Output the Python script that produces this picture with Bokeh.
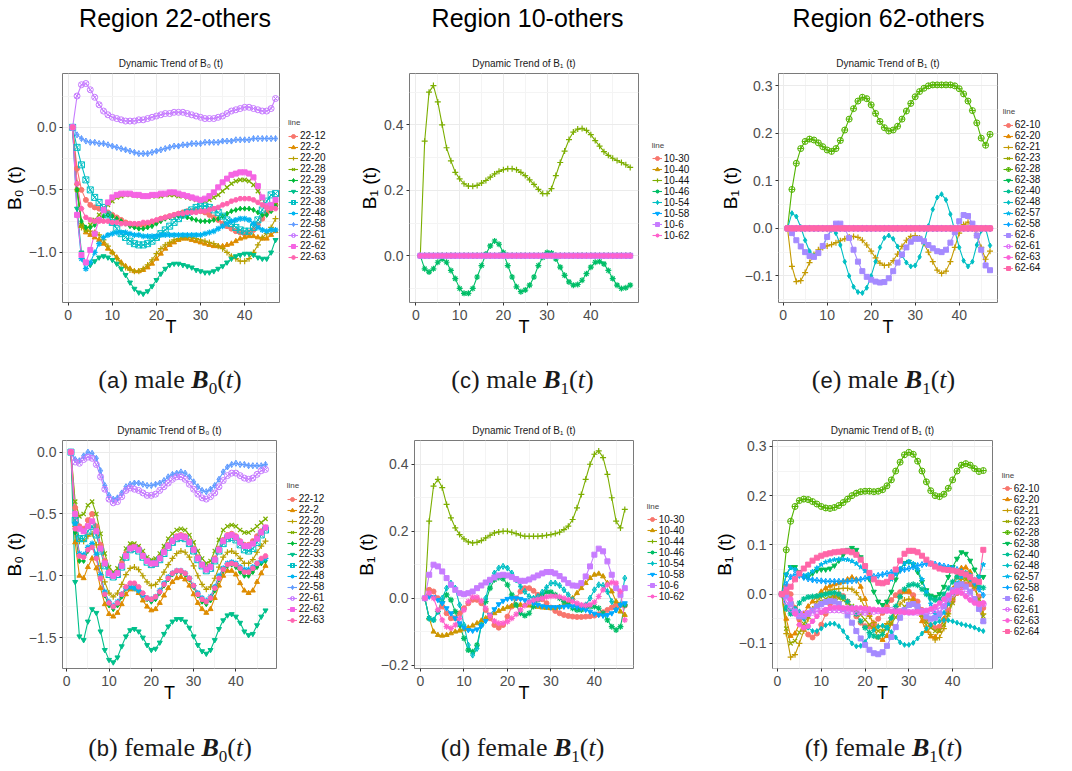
from bokeh.plotting import figure
from bokeh.models import FixedTicker, CustomJSTickFormatter, Legend, LegendItem, Div, Range1d
from bokeh.layouts import column, row
from bokeh.embed import file_html
from bokeh.resources import INLINE

# ---------------- x values ----------------
T47 = [1, 2, 3, 4, 5, 6, 7, 8, 9, 10, 11, 12, 13, 14, 15, 16, 17, 18, 19, 20,
       21, 22, 23, 24, 25, 26, 27, 28, 29, 30, 31, 32, 33, 34, 35, 36, 37, 38, 39, 40,
       41, 42, 43, 44, 45, 46, 47]
T49 = T47 + [48, 49]

# ---------------- legend names ----------------
names_22 = ["22-12", "22-2", "22-20", "22-28", "22-29", "22-33", "22-38", "22-48",
            "22-58", "22-61", "22-62", "22-63"]
names_10 = ["10-30", "10-40", "10-44", "10-46", "10-54", "10-58", "10-6", "10-62"]
names_62 = ["62-10", "62-20", "62-21", "62-23", "62-28", "62-38", "62-40", "62-48",
            "62-57", "62-58", "62-6", "62-61", "62-63", "62-64"]

# ---------------- (a) male B0, region 22 ----------------
a_22_12 = [0, -0.33, -0.5, -0.58, -0.62, -0.64, -0.65, -0.66, -0.68, -0.7,
           -0.72, -0.74, -0.76, -0.77, -0.78, -0.78, -0.78, -0.77, -0.76, -0.75,
           -0.73, -0.72, -0.71, -0.7, -0.69, -0.68, -0.67, -0.67, -0.67, -0.67,
           -0.68, -0.7, -0.72, -0.74, -0.77, -0.79, -0.81, -0.83, -0.84, -0.85,
           -0.84, -0.82, -0.78, -0.73, -0.68, -0.64, -0.62]
a_22_2 = [0, -0.45, -0.78, -0.84, -0.86, -0.88, -0.9, -0.93, -0.97, -1.0,
          -1.04, -1.08, -1.11, -1.13, -1.15, -1.15, -1.14, -1.12, -1.09, -1.05,
          -1.01, -0.97, -0.94, -0.92, -0.9, -0.89, -0.89, -0.9, -0.91, -0.92,
          -0.93, -0.94, -0.95, -0.95, -0.95, -0.94, -0.93, -0.91, -0.89, -0.88,
          -0.87, -0.87, -0.88, -0.89, -0.89, -0.86, -0.83]
a_22_20 = [0, -0.5, -0.8, -0.82, -0.83, -0.84, -0.86, -0.9, -0.95, -1.0,
           -1.05, -1.09, -1.12, -1.14, -1.15, -1.15, -1.13, -1.1, -1.06, -1.01,
           -0.97, -0.94, -0.92, -0.9, -0.89, -0.88, -0.88, -0.88, -0.89, -0.9,
           -0.91, -0.92, -0.93, -0.95, -0.97, -1.0, -1.03, -1.05, -1.07, -1.07,
           -1.05, -1.0, -0.94, -0.88, -0.85, -0.8, -0.73]
a_22_28 = [0, -0.5, -0.78, -0.82, -0.78, -0.74, -0.7, -0.66, -0.62, -0.59,
           -0.56, -0.55, -0.54, -0.54, -0.54, -0.55, -0.55, -0.55, -0.55, -0.55,
           -0.55, -0.54, -0.54, -0.54, -0.55, -0.55, -0.56, -0.57, -0.58, -0.59,
           -0.59, -0.58, -0.56, -0.54, -0.51, -0.48, -0.45, -0.43, -0.42, -0.42,
           -0.43, -0.46, -0.51, -0.57, -0.63, -0.66, -0.62]
a_22_29 = [0, -0.5, -0.75, -0.8, -0.8, -0.78, -0.74, -0.71, -0.7, -0.71,
           -0.73, -0.75, -0.77, -0.79, -0.8, -0.81, -0.81, -0.8, -0.79, -0.77,
           -0.75, -0.73, -0.72, -0.71, -0.71, -0.71, -0.72, -0.73, -0.74, -0.75,
           -0.75, -0.75, -0.74, -0.73, -0.71, -0.69, -0.67, -0.66, -0.65, -0.65,
           -0.65, -0.66, -0.68, -0.7, -0.7, -0.67, -0.63]
a_22_33 = [0, -0.65, -1.0, -1.08, -1.1, -1.07, -1.04, -1.03, -1.04, -1.06,
           -1.09, -1.13, -1.18, -1.24, -1.29, -1.32, -1.33, -1.31, -1.27, -1.22,
           -1.17, -1.13, -1.1, -1.09, -1.09, -1.1, -1.11, -1.12, -1.14, -1.15,
           -1.16, -1.16, -1.15, -1.13, -1.11, -1.08, -1.05, -1.03, -1.02, -1.01,
           -1.01, -1.02, -1.04, -1.05, -1.05, -1.0, -0.9]
a_22_38 = [0, -0.16, -0.3, -0.42, -0.5, -0.56, -0.6, -0.64, -0.7, -0.76,
           -0.81, -0.85, -0.88, -0.91, -0.93, -0.94, -0.94, -0.93, -0.91, -0.88,
           -0.85, -0.82, -0.79, -0.76, -0.73, -0.7, -0.68, -0.66, -0.64, -0.63,
           -0.63, -0.64, -0.66, -0.68, -0.71, -0.74, -0.77, -0.8, -0.82, -0.83,
           -0.83, -0.8, -0.74, -0.66, -0.59, -0.54, -0.53]
a_22_48 = [0, -0.7, -1.05, -1.13, -1.08, -1.0, -0.93, -0.88, -0.86, -0.85,
           -0.84, -0.84, -0.84, -0.85, -0.86, -0.86, -0.87, -0.87, -0.87, -0.87,
           -0.86, -0.86, -0.86, -0.86, -0.86, -0.86, -0.86, -0.86, -0.86, -0.86,
           -0.85, -0.84, -0.83, -0.81, -0.79, -0.77, -0.75, -0.74, -0.73, -0.73,
           -0.74, -0.77, -0.8, -0.82, -0.83, -0.82, -0.82]
a_22_58 = [0, -0.06, -0.09, -0.11, -0.12, -0.12, -0.13, -0.13, -0.14, -0.15,
           -0.16, -0.17, -0.18, -0.19, -0.2, -0.21, -0.21, -0.21, -0.2, -0.19,
           -0.18, -0.17, -0.16, -0.15, -0.15, -0.14, -0.14, -0.13, -0.13, -0.13,
           -0.12, -0.12, -0.12, -0.12, -0.11, -0.11, -0.11, -0.1, -0.1, -0.1,
           -0.1, -0.09, -0.09, -0.09, -0.09, -0.09, -0.09]
a_22_61 = [0, 0.25, 0.34, 0.35, 0.3, 0.24, 0.18, 0.13, 0.1, 0.08,
           0.07, 0.06, 0.05, 0.05, 0.05, 0.06, 0.06, 0.07, 0.08, 0.09,
           0.1, 0.11, 0.11, 0.12, 0.12, 0.12, 0.11, 0.1, 0.09, 0.08,
           0.07, 0.07, 0.07, 0.08, 0.09, 0.11, 0.13, 0.14, 0.15, 0.16,
           0.16, 0.15, 0.14, 0.13, 0.13, 0.15, 0.23]
a_22_62 = [0, -0.7, -1.02, -1.08, -0.98, -0.85, -0.74, -0.66, -0.6, -0.56,
           -0.54, -0.53, -0.53, -0.53, -0.54, -0.54, -0.55, -0.55, -0.54, -0.54,
           -0.53, -0.53, -0.52, -0.52, -0.53, -0.54, -0.55, -0.56, -0.57, -0.58,
           -0.57, -0.55, -0.52, -0.48, -0.44, -0.41, -0.38, -0.37, -0.36, -0.36,
           -0.37, -0.4, -0.47, -0.56, -0.63, -0.62, -0.58]
a_22_63 = [0, -0.45, -0.65, -0.72, -0.74, -0.75, -0.75, -0.75, -0.75, -0.76,
           -0.76, -0.77, -0.77, -0.77, -0.77, -0.77, -0.76, -0.76, -0.75, -0.74,
           -0.73, -0.72, -0.71, -0.7, -0.69, -0.69, -0.68, -0.68, -0.68, -0.67,
           -0.67, -0.66, -0.65, -0.64, -0.62, -0.61, -0.59, -0.58, -0.57, -0.57,
           -0.57, -0.58, -0.6, -0.62, -0.64, -0.65, -0.65]

# ---------------- (b) female B0, region 22 ----------------
b_22_12 = [0, -0.45, -0.6, -0.62, -0.55, -0.5, -0.6, -0.75, -0.88, -0.97,
           -1.0, -0.97, -0.9, -0.82, -0.77, -0.76, -0.78, -0.83, -0.88, -0.9,
           -0.89, -0.85, -0.8, -0.75, -0.71, -0.68, -0.67, -0.68, -0.72, -0.78,
           -0.85, -0.91, -0.94, -0.92, -0.86, -0.78, -0.71, -0.67, -0.66, -0.68,
           -0.72, -0.75, -0.75, -0.72, -0.68, -0.64, -0.61]
b_22_2 = [0, -0.73, -1.0, -1.02, -0.93, -0.86, -0.94, -1.1, -1.23, -1.31,
          -1.33, -1.3, -1.23, -1.15, -1.11, -1.11, -1.14, -1.2, -1.25, -1.28,
          -1.27, -1.22, -1.16, -1.1, -1.05, -1.02, -1.01, -1.03, -1.08, -1.15,
          -1.22, -1.27, -1.3, -1.27, -1.18, -1.08, -1.0, -0.96, -0.96, -0.99,
          -1.06, -1.12, -1.14, -1.12, -1.05, -0.98, -0.92]
b_22_20 = [0, -0.6, -0.72, -0.72, -0.68, -0.66, -0.75, -0.92, -1.05, -1.14,
           -1.17, -1.14, -1.07, -0.99, -0.94, -0.93, -0.95, -1.0, -1.05, -1.08,
           -1.07, -1.03, -0.97, -0.91, -0.86, -0.82, -0.8, -0.81, -0.85, -0.92,
           -1.0, -1.07, -1.11, -1.09, -1.02, -0.93, -0.85, -0.81, -0.8, -0.82,
           -0.86, -0.9, -0.9, -0.87, -0.81, -0.76, -0.72]
b_22_28 = [0, -0.4, -0.52, -0.5, -0.43, -0.4, -0.5, -0.66, -0.82, -0.93,
           -0.97, -0.94, -0.86, -0.78, -0.74, -0.74, -0.76, -0.8, -0.85, -0.87,
           -0.86, -0.82, -0.76, -0.7, -0.66, -0.63, -0.62, -0.63, -0.67, -0.73,
           -0.8, -0.86, -0.9, -0.88, -0.8, -0.71, -0.63, -0.6, -0.59, -0.6,
           -0.63, -0.65, -0.65, -0.63, -0.6, -0.57, -0.54]
b_22_29 = [0, -0.65, -0.88, -0.88, -0.8, -0.76, -0.85, -1.02, -1.16, -1.24,
           -1.27, -1.24, -1.17, -1.1, -1.07, -1.07, -1.1, -1.15, -1.19, -1.21,
           -1.19, -1.14, -1.08, -1.03, -0.99, -0.97, -0.97, -0.99, -1.03, -1.09,
           -1.16, -1.21, -1.23, -1.2, -1.12, -1.03, -0.96, -0.92, -0.91, -0.93,
           -0.97, -1.0, -1.0, -0.97, -0.93, -0.9, -0.88]
b_22_33 = [0, -1.05, -1.49, -1.52, -1.37, -1.27, -1.3, -1.45, -1.6, -1.68,
           -1.7, -1.66, -1.57, -1.49, -1.44, -1.43, -1.45, -1.5, -1.56, -1.6,
           -1.59, -1.54, -1.47, -1.41, -1.37, -1.35, -1.35, -1.37, -1.42, -1.49,
           -1.56, -1.61, -1.63, -1.6, -1.52, -1.43, -1.36, -1.32, -1.31, -1.33,
           -1.38, -1.45, -1.48, -1.47, -1.4, -1.33, -1.28]
b_22_38 = [0, -0.55, -0.7, -0.7, -0.64, -0.6, -0.67, -0.8, -0.92, -0.99,
           -1.01, -0.99, -0.93, -0.85, -0.79, -0.78, -0.8, -0.85, -0.89, -0.91,
           -0.9, -0.87, -0.82, -0.77, -0.73, -0.7, -0.69, -0.7, -0.74, -0.8,
           -0.87, -0.92, -0.96, -0.94, -0.88, -0.8, -0.74, -0.7, -0.69, -0.71,
           -0.75, -0.79, -0.8, -0.78, -0.73, -0.67, -0.63]
b_22_48 = [0, -0.58, -0.82, -0.83, -0.77, -0.74, -0.83, -0.99, -1.13, -1.21,
           -1.24, -1.21, -1.15, -1.1, -1.09, -1.1, -1.12, -1.16, -1.18, -1.19,
           -1.17, -1.12, -1.06, -1.01, -0.98, -0.96, -0.96, -0.98, -1.02, -1.08,
           -1.14, -1.18, -1.2, -1.17, -1.09, -1.0, -0.94, -0.9, -0.89, -0.9,
           -0.93, -0.95, -0.95, -0.93, -0.9, -0.88, -0.86]
b_22_58 = [0, -0.06, -0.07, -0.03, 0.0, -0.01, -0.05, -0.15, -0.27, -0.35,
           -0.38, -0.37, -0.33, -0.28, -0.26, -0.25, -0.25, -0.26, -0.27, -0.27,
           -0.26, -0.25, -0.23, -0.2, -0.18, -0.17, -0.16, -0.17, -0.2, -0.24,
           -0.28, -0.31, -0.32, -0.3, -0.27, -0.22, -0.16, -0.12, -0.1, -0.09,
           -0.1, -0.1, -0.11, -0.11, -0.11, -0.11, -0.1]
b_22_61 = [0, -0.08, -0.09, -0.06, -0.04, -0.05, -0.1, -0.2, -0.3, -0.38,
           -0.41, -0.4, -0.36, -0.31, -0.29, -0.3, -0.31, -0.33, -0.35, -0.35,
           -0.34, -0.31, -0.28, -0.25, -0.22, -0.2, -0.2, -0.22, -0.26, -0.3,
           -0.34, -0.37, -0.38, -0.36, -0.33, -0.28, -0.23, -0.19, -0.17, -0.17,
           -0.19, -0.21, -0.22, -0.21, -0.18, -0.15, -0.14]
b_22_62 = [0, -0.5, -0.62, -0.64, -0.6, -0.56, -0.64, -0.78, -0.9, -0.98,
           -1.0, -0.98, -0.92, -0.84, -0.78, -0.77, -0.79, -0.84, -0.88, -0.9,
           -0.9, -0.86, -0.81, -0.76, -0.72, -0.69, -0.68, -0.69, -0.73, -0.79,
           -0.86, -0.91, -0.95, -0.93, -0.87, -0.79, -0.72, -0.68, -0.67, -0.69,
           -0.73, -0.76, -0.76, -0.74, -0.7, -0.65, -0.61]
b_22_63 = [0, -0.62, -0.84, -0.85, -0.79, -0.77, -0.86, -1.02, -1.15, -1.22,
           -1.25, -1.22, -1.15, -1.09, -1.06, -1.06, -1.09, -1.14, -1.18, -1.19,
           -1.17, -1.13, -1.07, -1.02, -0.98, -0.96, -0.96, -0.98, -1.02, -1.08,
           -1.15, -1.19, -1.21, -1.18, -1.1, -1.02, -0.95, -0.91, -0.9, -0.91,
           -0.94, -0.97, -0.97, -0.94, -0.9, -0.86, -0.84]

# ---------------- (c) male B1, region 10 (49 time points) ----------------
c_zero = [0, 0, 0, 0, 0, 0, 0, 0, 0, 0, 0, 0, 0, 0, 0, 0, 0, 0, 0, 0,
          0, 0, 0, 0, 0, 0, 0, 0, 0, 0, 0, 0, 0, 0, 0, 0, 0, 0, 0, 0,
          0, 0, 0, 0, 0, 0, 0, 0, 0]
c_10_44 = [0, 0.35, 0.5, 0.52, 0.47, 0.4, 0.33, 0.29, 0.255, 0.235,
           0.22, 0.213, 0.212, 0.215, 0.222, 0.23, 0.24, 0.25, 0.258, 0.263,
           0.266, 0.266, 0.263, 0.255, 0.245, 0.232, 0.218, 0.203, 0.19, 0.19,
           0.205, 0.245, 0.285, 0.32, 0.355, 0.378, 0.387, 0.389, 0.383, 0.37,
           0.352, 0.335, 0.318, 0.307, 0.298, 0.291, 0.285, 0.278, 0.27]
c_10_46 = [0, -0.04, -0.05, -0.04, -0.02, -0.01, -0.02, -0.045, -0.07, -0.1,
           -0.115, -0.115, -0.1, -0.065, -0.03, 0.005, 0.03, 0.045, 0.035, 0.01,
           -0.03, -0.065, -0.095, -0.11, -0.105, -0.09, -0.065, -0.03, -0.005, 0.01,
           0.008, -0.01, -0.035, -0.06, -0.08, -0.09, -0.088, -0.075, -0.055, -0.035,
           -0.02, -0.018, -0.025, -0.045, -0.07, -0.09, -0.1, -0.098, -0.09]

# ---------------- (d) female B1, region 10 ----------------
d_10_30 = [0, 0.025, 0.02, 0.0, -0.025, -0.045, -0.06, -0.06, -0.045, -0.03,
           -0.015, -0.005, -0.005, -0.015, -0.035, -0.06, -0.08, -0.088, -0.08, -0.055,
           -0.025, 0.0, 0.02, 0.03, 0.03, 0.022, 0.01, -0.003, -0.015, -0.028,
           -0.038, -0.045, -0.05, -0.053, -0.055, -0.056, -0.056, -0.055, -0.054, -0.052,
           -0.048, -0.042, -0.035, -0.028, -0.022, -0.02, -0.022]
d_10_40 = [0, -0.06, -0.1, -0.11, -0.112, -0.11, -0.105, -0.1, -0.097, -0.093,
           -0.088, -0.082, -0.075, -0.067, -0.06, -0.052, -0.045, -0.038, -0.032, -0.027,
           -0.023, -0.021, -0.02, -0.021, -0.022, -0.024, -0.026, -0.028, -0.029, -0.03,
           -0.029, -0.026, -0.02, -0.012, 0.0, 0.015, 0.03, 0.045, 0.06, 0.07,
           0.073, 0.065, 0.045, 0.02, -0.01, -0.04, -0.05]
d_10_44 = [0, 0.23, 0.335, 0.355, 0.33, 0.28, 0.24, 0.21, 0.19, 0.177,
           0.168, 0.165, 0.167, 0.172, 0.18, 0.188, 0.195, 0.198, 0.2, 0.2,
           0.197, 0.193, 0.188, 0.185, 0.185, 0.185, 0.185, 0.186, 0.188, 0.19,
           0.193, 0.197, 0.205, 0.215, 0.235, 0.27, 0.31, 0.355, 0.4, 0.43,
           0.44, 0.42, 0.37, 0.3, 0.23, 0.21, 0.265]
d_10_46 = [0, -0.06, -0.065, -0.04, -0.01, 0.01, -0.005, -0.04, -0.08, -0.12,
           -0.155, -0.16, -0.14, -0.08, -0.01, 0.03, 0.055, 0.062, 0.058, 0.04,
           0.01, -0.02, -0.045, -0.052, -0.045, -0.025, -0.005, 0.01, 0.018, 0.018,
           0.01, 0.0, -0.01, -0.02, -0.03, -0.035, -0.035, -0.03, -0.025, -0.025,
           -0.03, -0.045, -0.065, -0.085, -0.095, -0.085, -0.02]
d_10_54 = [0, -0.06, -0.065, -0.04, 0.0, 0.03, 0.045, 0.03, -0.02, -0.08,
           -0.14, -0.17, -0.15, -0.08, 0.0, 0.05, 0.075, 0.09, 0.095, 0.09,
           0.075, 0.055, 0.035, 0.02, 0.005, 0.0, 0.005, 0.018, 0.032, 0.045,
           0.045, 0.038, 0.025, 0.01, -0.005, -0.02, -0.025, -0.02, 0.0, 0.025,
           0.04, 0.038, 0.02, -0.01, -0.035, -0.02, 0.06]
d_10_58 = [0, 0.005, 0.003, -0.005, -0.015, -0.03, -0.045, -0.06, -0.075, -0.088,
           -0.095, -0.097, -0.093, -0.083, -0.068, -0.05, -0.033, -0.018, -0.008, -0.002,
           0.0, 0.0, -0.002, -0.006, -0.01, -0.015, -0.02, -0.024, -0.026, -0.027,
           -0.027, -0.026, -0.025, -0.024, -0.024, -0.026, -0.03, -0.035, -0.04, -0.046,
           -0.05, -0.052, -0.05, -0.045, -0.035, -0.02, -0.015]
d_10_6 = [0, 0.07, 0.1, 0.095, 0.08, 0.06, 0.04, 0.025, 0.015, 0.012,
          0.015, 0.02, 0.03, 0.038, 0.047, 0.055, 0.062, 0.068, 0.07, 0.068,
          0.063, 0.057, 0.052, 0.052, 0.056, 0.062, 0.068, 0.074, 0.078, 0.078,
          0.074, 0.066, 0.056, 0.045, 0.038, 0.037, 0.045, 0.065, 0.095, 0.13,
          0.148, 0.14, 0.11, 0.07, 0.03, 0.01, 0.03]
d_10_62 = [0, 0.015, 0.0, -0.035, -0.065, -0.085, -0.09, -0.08, -0.06, -0.035,
           -0.01, 0.003, 0.003, -0.008, -0.03, -0.052, -0.068, -0.075, -0.075, -0.07,
           -0.06, -0.048, -0.035, -0.022, -0.012, -0.006, -0.003, 0.0, 0.004, 0.006,
           0.006, 0.004, 0.0, -0.005, -0.01, -0.015, -0.02, -0.022, -0.02, -0.012,
           0.005, 0.025, 0.04, 0.047, 0.045, 0.02, -0.065]

# ---------------- (e) male B1, region 62 ----------------
e_zero = [0, 0, 0, 0, 0, 0, 0, 0, 0, 0, 0, 0, 0, 0, 0, 0, 0, 0, 0, 0,
          0, 0, 0, 0, 0, 0, 0, 0, 0, 0, 0, 0, 0, 0, 0, 0, 0, 0, 0, 0,
          0, 0, 0, 0, 0, 0, 0]
e_62_21 = [0, -0.08, -0.112, -0.11, -0.093, -0.072, -0.055, -0.045, -0.04, -0.037,
           -0.034, -0.03, -0.026, -0.022, -0.018, -0.017, -0.019, -0.025, -0.035, -0.048,
           -0.062, -0.073, -0.078, -0.077, -0.068, -0.054, -0.038, -0.025, -0.017, -0.015,
           -0.02, -0.032, -0.05, -0.07, -0.088, -0.095, -0.09, -0.07, -0.04, -0.01,
           0.008, 0.013, 0.005, -0.015, -0.04, -0.065, -0.048]
e_62_28 = [0, 0.082, 0.137, 0.168, 0.183, 0.188, 0.186, 0.18, 0.172, 0.165,
           0.162, 0.168, 0.185, 0.207, 0.23, 0.252, 0.268, 0.276, 0.273, 0.26,
           0.242, 0.225, 0.212, 0.205, 0.207, 0.215, 0.23, 0.247, 0.263, 0.277,
           0.288, 0.295, 0.3, 0.302, 0.302, 0.302, 0.302, 0.302, 0.3, 0.294,
           0.283, 0.268, 0.248, 0.222, 0.19, 0.175, 0.198]
e_62_48 = [0, 0.032, 0.025, 0.003, -0.025, -0.048, -0.058, -0.052, -0.038, -0.018,
           -0.003, -0.01, -0.035, -0.07, -0.1, -0.123, -0.134, -0.136, -0.125, -0.1,
           -0.07, -0.04, -0.02, -0.015, -0.022, -0.038, -0.057, -0.072, -0.08, -0.078,
           -0.06, -0.03, 0.005, 0.04, 0.065, 0.072, 0.06, 0.03, -0.005, -0.04,
           -0.068, -0.08, -0.07, -0.035, -0.005, 0.0, -0.036]
e_62_6 = [0, -0.01, -0.025, -0.038, -0.05, -0.058, -0.06, -0.052, -0.037, -0.018,
          0.0, 0.01, 0.01, 0.0, -0.02, -0.045, -0.07, -0.09, -0.102, -0.108,
          -0.112, -0.114, -0.113, -0.105, -0.09, -0.072, -0.055, -0.04, -0.028, -0.022,
          -0.022, -0.027, -0.035, -0.042, -0.048, -0.05, -0.045, -0.03, -0.008, 0.015,
          0.028, 0.026, 0.01, -0.015, -0.045, -0.078, -0.088]

# ---------------- (f) female B1, region 62 ----------------
f_62_10 = [0, 0.015, 0.0, -0.028, -0.052, -0.07, -0.082, -0.088, -0.08, -0.062,
           -0.04, -0.02, -0.006, 0.0, -0.004, -0.015, -0.03, -0.045, -0.058, -0.065,
           -0.066, -0.06, -0.05, -0.038, -0.025, -0.012, -0.002, 0.004, 0.006, 0.005,
           -0.002, -0.015, -0.032, -0.05, -0.063, -0.069, -0.066, -0.052, -0.033, -0.014,
           0.002, 0.014, 0.02, 0.02, 0.012, -0.005, -0.028]
f_62_20 = [0, -0.05, -0.085, -0.08, -0.06, -0.04, -0.025, -0.015, -0.005, 0.005,
           0.012, 0.017, 0.02, 0.022, 0.025, 0.03, 0.034, 0.03, 0.015, -0.01,
           -0.04, -0.068, -0.088, -0.093, -0.085, -0.06, -0.03, -0.005, 0.005, 0.005,
           -0.01, -0.03, -0.055, -0.075, -0.086, -0.087, -0.075, -0.05, -0.02, 0.01,
           0.035, 0.053, 0.054, 0.045, 0.02, -0.02, -0.055]
f_62_21 = [0, -0.08, -0.128, -0.123, -0.1, -0.075, -0.05, -0.03, -0.015, -0.005,
           0.003, 0.008, 0.01, 0.011, 0.012, 0.012, 0.01, 0.003, -0.01, -0.028,
           -0.045, -0.058, -0.065, -0.066, -0.06, -0.048, -0.033, -0.02, -0.012, -0.01,
           -0.015, -0.028, -0.045, -0.065, -0.082, -0.093, -0.088, -0.07, -0.04, -0.01,
           0.015, 0.03, 0.035, 0.03, 0.015, -0.015, -0.04]
f_62_23 = [0, -0.07, -0.1, -0.095, -0.078, -0.06, -0.045, -0.033, -0.023, -0.015,
           -0.01, -0.007, -0.006, -0.008, -0.012, -0.018, -0.024, -0.032, -0.042, -0.052,
           -0.062, -0.07, -0.075, -0.075, -0.07, -0.06, -0.047, -0.035, -0.025, -0.02,
           -0.022, -0.03, -0.042, -0.056, -0.068, -0.075, -0.074, -0.062, -0.042, -0.018,
           0.005, 0.022, 0.03, 0.028, 0.015, -0.01, -0.045]
f_62_28 = [0, 0.09, 0.148, 0.178, 0.19, 0.193, 0.192, 0.188, 0.183, 0.178,
           0.175, 0.174, 0.176, 0.18, 0.186, 0.193, 0.2, 0.205, 0.208, 0.209,
           0.209, 0.208, 0.209, 0.212, 0.22, 0.232, 0.25, 0.268, 0.283, 0.288,
           0.284, 0.27, 0.25, 0.228, 0.21, 0.2, 0.198, 0.203, 0.215, 0.232,
           0.25, 0.262, 0.265, 0.262, 0.255, 0.249, 0.251]
f_62_38 = [0, 0.04, 0.055, 0.055, 0.045, 0.035, 0.035, 0.042, 0.048, 0.05,
           0.05, 0.052, 0.058, 0.068, 0.08, 0.09, 0.094, 0.09, 0.075, 0.055,
           0.03, 0.005, -0.015, -0.022, -0.015, 0.005, 0.03, 0.05, 0.063, 0.066,
           0.06, 0.045, 0.025, 0.008, -0.003, -0.006, 0.0, 0.015, 0.035, 0.055,
           0.072, 0.085, 0.082, 0.068, 0.05, 0.035, 0.035]
f_62_40 = [0, -0.03, -0.04, -0.03, -0.018, -0.01, -0.006, -0.005, -0.004, -0.002,
           0.0, 0.002, 0.003, 0.0, -0.006, -0.015, -0.027, -0.04, -0.055, -0.068,
           -0.078, -0.085, -0.087, -0.082, -0.068, -0.048, -0.025, -0.005, 0.01, 0.018,
           0.02, 0.018, 0.01, 0.0, -0.008, -0.012, -0.01, 0.0, 0.012, 0.025,
           0.035, 0.042, 0.043, 0.038, 0.025, 0.015, 0.013]
f_62_48 = [0, -0.025, -0.033, -0.03, -0.035, -0.05, -0.068, -0.075, -0.075, -0.07,
           -0.063, -0.06, -0.06, -0.065, -0.075, -0.088, -0.1, -0.106, -0.105, -0.097,
           -0.085, -0.073, -0.066, -0.064, -0.068, -0.077, -0.088, -0.098, -0.103, -0.103,
           -0.099, -0.09, -0.08, -0.07, -0.062, -0.058, -0.055, -0.053, -0.053, -0.055,
           -0.058, -0.061, -0.063, -0.065, -0.068, -0.072, -0.075]
f_62_57 = [0, 0.04, 0.053, 0.05, 0.042, 0.038, 0.04, 0.046, 0.053, 0.06,
           0.065, 0.068, 0.07, 0.071, 0.071, 0.07, 0.067, 0.062, 0.055, 0.047,
           0.038, 0.03, 0.024, 0.022, 0.024, 0.03, 0.04, 0.052, 0.062, 0.066,
           0.062, 0.05, 0.03, 0.005, -0.02, -0.04, -0.045, -0.038, -0.02, 0.002,
           0.022, 0.035, 0.04, 0.038, 0.03, 0.035, 0.06]
f_62_58 = [0, 0.02, 0.035, 0.04, 0.038, 0.034, 0.031, 0.029, 0.028, 0.027,
           0.026, 0.026, 0.026, 0.026, 0.026, 0.026, 0.027, 0.028, 0.03, 0.032,
           0.034, 0.036, 0.038, 0.04, 0.042, 0.044, 0.046, 0.048, 0.05, 0.052,
           0.055, 0.058, 0.06, 0.062, 0.062, 0.061, 0.059, 0.057, 0.055, 0.053,
           0.05, 0.046, 0.04, 0.032, 0.022, 0.01, -0.002]
f_62_6 = [0, -0.005, -0.02, -0.035, -0.045, -0.045, -0.04, -0.033, -0.025, -0.02,
          -0.016, -0.014, -0.015, -0.02, -0.03, -0.043, -0.058, -0.075, -0.09, -0.103,
          -0.113, -0.12, -0.122, -0.118, -0.105, -0.087, -0.067, -0.048, -0.032, -0.022,
          -0.02, -0.025, -0.035, -0.045, -0.05, -0.048, -0.04, -0.025, -0.008, 0.008,
          0.018, 0.02, 0.015, 0.005, -0.01, -0.03, -0.055]
f_62_61 = [0, -0.015, -0.03, -0.038, -0.04, -0.04, -0.039, -0.037, -0.035, -0.034,
           -0.033, -0.032, -0.032, -0.032, -0.033, -0.034, -0.035, -0.036, -0.037, -0.037,
           -0.036, -0.035, -0.034, -0.033, -0.033, -0.033, -0.034, -0.035, -0.036, -0.037,
           -0.037, -0.037, -0.036, -0.035, -0.034, -0.032, -0.028, -0.02, -0.01, 0.0,
           0.006, 0.006, 0.0, -0.008, -0.015, -0.02, -0.02]
f_62_63 = [0, 0.01, -0.01, -0.04, -0.062, -0.068, -0.065, -0.055, -0.045, -0.037,
           -0.032, -0.028, -0.027, -0.027, -0.028, -0.028, -0.028, -0.028, -0.028, -0.029,
           -0.03, -0.031, -0.032, -0.033, -0.034, -0.035, -0.036, -0.036, -0.037, -0.037,
           -0.037, -0.036, -0.035, -0.033, -0.03, -0.025, -0.018, -0.01, -0.002, 0.004,
           0.006, 0.002, -0.005, -0.012, -0.018, -0.02, -0.018]
f_62_64 = [0, 0.005, 0.015, 0.03, 0.042, 0.052, 0.06, 0.068, 0.074, 0.078,
           0.081, 0.083, 0.085, 0.086, 0.087, 0.087, 0.085, 0.08, 0.07, 0.057,
           0.043, 0.03, 0.023, 0.022, 0.025, 0.035, 0.05, 0.068, 0.082, 0.088,
           0.088, 0.085, 0.078, 0.07, 0.062, 0.056, 0.052, 0.05, 0.049, 0.048,
           0.046, 0.043, 0.04, 0.035, 0.028, 0.025, 0.09]

# ---------------- styling ----------------
HUE8 = ["#F8766D", "#CD9600", "#7CAE00", "#00BE67", "#00BFC4", "#00A9FF", "#C77CFF", "#FF61CC"]
HUE12 = ["#F8766D", "#DE8C00", "#B79F00", "#7CAE00", "#00BA38", "#00C08B", "#00BFC4",
         "#00B4F0", "#619CFF", "#C77CFF", "#F564E3", "#FF64B0"]
HUE14 = ["#F8766D", "#E38900", "#C49A00", "#99A800", "#53B400", "#00BC56", "#00C094",
         "#00BFC4", "#00B6EB", "#06A4FF", "#A58AFF", "#DF70F8", "#FB61D7", "#FF66A8"]
SH12 = ["circle", "triangle", "cross", "x", "diamond", "inverted_triangle", "square_x",
        "asterisk", "diamond_cross", "circle_x", "square", "hex"]
SH8 = ["circle", "triangle", "cross", "asterisk", "diamond_cross", "inverted_triangle", "square", "asterisk"]
SH14 = ["circle", "triangle", "cross", "x", "circle_cross", "inverted_triangle", "asterisk",
        "diamond", "star", "diamond_cross", "square", "circle_x", "hex", "square"]
HOLLOW = {"circle_cross", "circle_x", "diamond_cross", "square_x"}
LINEONLY = {"cross", "x", "asterisk"}

FONT = "Liberation Sans"
ITEM_H = 11.2
LEG_SHIFT = 44
XT = FixedTicker(ticks=[0, 10, 20, 30, 40], minor_ticks=[5, 15, 25, 35, 45])


def add_series(p, T, vals_list, colors, shapes):
    lines = []
    for vals, c in zip(vals_list, colors):
        lines.append(p.line(T, vals, line_color=c, line_width=1.1))
    pts = []
    for vals, c, s in zip(vals_list, colors, shapes):
        if s in HOLLOW:
            r = p.scatter(T, vals, marker=s, size=6, line_color=c, fill_color=None, line_width=1)
        elif s in LINEONLY:
            r = p.scatter(T, vals, marker=s, size=6, line_color=c, line_width=1.2)
        else:
            r = p.scatter(T, vals, marker=s, size=5, line_color=c, fill_color=c)
        pts.append(r)
    return lines, pts


def panel(T, series, colors, shapes, w, h, bl, bt, bb, xr, yr, yt, ym, ylab, title):
    p = figure(width=w, height=h, x_range=Range1d(*xr), y_range=Range1d(*yr),
               output_backend="svg", toolbar_location=None,
               min_border_left=bl, min_border_right=2, min_border_top=bt,
               min_border_bottom=bb, margin=0)
    p.title.text = title
    p.title.align = "center"
    p.title.text_font = FONT
    p.title.text_font_size = "10px"
    p.title.text_font_style = "normal"
    p.title.text_color = "#1A1A1A"
    p.title.standoff = 9
    p.background_fill_color = "white"
    p.border_fill_color = "white"
    p.outline_line_color = "#7A7A7A"
    p.outline_line_width = 1

    yticker = FixedTicker(ticks=yt, minor_ticks=ym)
    p.xaxis.ticker = XT
    p.yaxis.ticker = yticker
    p.xgrid.ticker = XT
    p.ygrid.ticker = yticker
    p.grid.grid_line_color = "#EBEBEB"
    p.grid.minor_grid_line_color = "#F4F4F4"
    p.yaxis.formatter = CustomJSTickFormatter(
        code="return tick.toFixed(1).replace('-', '\\u2212');")
    for ax in (p.xaxis[0], p.yaxis[0]):
        ax.axis_line_color = None
        ax.major_tick_out = 3
        ax.major_tick_in = 0
        ax.major_tick_line_color = "#333333"
        ax.minor_tick_line_color = None
        ax.major_label_text_font = FONT
        ax.major_label_text_font_size = "14px"
        ax.major_label_text_color = "#4D4D4D"
        ax.axis_label_text_font = FONT
        ax.axis_label_text_font_style = "normal"
        ax.axis_label_text_color = "#000000"
    p.xaxis.axis_label_text_font_size = "18px"
    p.yaxis.axis_label_text_font_size = "19px"
    p.xaxis.axis_label = "T"
    p.yaxis.axis_label = ylab
    p.xaxis.major_label_standoff = 3
    p.xaxis.axis_label_standoff = -6
    p.yaxis.major_label_standoff = 2
    p.yaxis.axis_label_standoff = 1
    add_series(p, T, series, colors, shapes)
    return p


def legend_fig(T, series, names, colors, shapes, w, h, glyph_x, gmid):
    # separate narrow canvas holding the ggplot-style legend ("line");
    # its x-range lies far from the data so only the legend keys are drawn
    lf = figure(width=w, height=h, x_range=Range1d(-1000, -999), y_range=Range1d(0, 1),
                output_backend="svg", toolbar_location=None,
                x_axis_location=None, y_axis_location=None,
                min_border=0, min_border_left=0, min_border_right=0,
                min_border_top=0, min_border_bottom=0, margin=0)
    lf.xgrid.visible = False
    lf.ygrid.visible = False
    lf.outline_line_color = None
    lf.background_fill_color = "white"
    lf.border_fill_color = "white"
    lines, pts = add_series(lf, T, series, colors, shapes)
    items = [LegendItem(label=nm, renderers=[l, s]) for nm, l, s in zip(names, lines, pts)]
    n = len(names)
    vy = h - (gmid + n * ITEM_H / 2.0) - LEG_SHIFT
    vx = glyph_x - 5
    leg = Legend(items=items, location=(vx, vy), title="line",
                 title_text_font=FONT, title_text_font_size="8px",
                 title_text_font_style="normal", title_standoff=3,
                 label_text_font=FONT, label_text_font_size="10px",
                 label_text_color="#111111",
                 label_height=10, glyph_height=10, glyph_width=10,
                 label_standoff=2, spacing=0, padding=0, margin=0,
                 border_line_color=None, background_fill_alpha=0)
    lf.add_layout(leg)
    return lf


Y0 = "B\u2080 (t)"
Y1 = "B\u2081 (t)"
TT0 = "Dynamic Trend of B\u2080 (t)"
TT1 = "Dynamic Trend of B\u2081 (t)"

ser_a = [a_22_12, a_22_2, a_22_20, a_22_28, a_22_29, a_22_33, a_22_38, a_22_48,
         a_22_58, a_22_61, a_22_62, a_22_63]
ser_b = [b_22_12, b_22_2, b_22_20, b_22_28, b_22_29, b_22_33, b_22_38, b_22_48,
         b_22_58, b_22_61, b_22_62, b_22_63]
ser_c = [c_zero, c_zero, c_10_44, c_10_46, c_zero, c_zero, c_zero, c_zero]
ser_d = [d_10_30, d_10_40, d_10_44, d_10_46, d_10_54, d_10_58, d_10_6, d_10_62]
ser_e = [e_zero, e_zero, e_62_21, e_zero, e_62_28, e_zero, e_zero, e_62_48,
         e_zero, e_zero, e_62_6, e_zero, e_zero, e_zero]
ser_f = [f_62_10, f_62_20, f_62_21, f_62_23, f_62_28, f_62_38, f_62_40, f_62_48,
         f_62_57, f_62_58, f_62_6, f_62_61, f_62_63, f_62_64]

# top row (height 295): column widths 350 / 355 / 367
pa = panel(T47, ser_a, HUE12, SH12, 281, 295, 61, 23, 43, (-1.3, 47.9), (-1.40, 0.43),
           [-1.0, -0.5, 0.0], [-1.25, -0.75, -0.25, 0.25], Y0, TT0)
la = legend_fig(T47, ser_a, names_22, HUE12, SH12, 69, 295, 12, 144)
pc = panel(T49, ser_c, HUE8, SH8, 290, 295, 59, 23, 43, (-1.47, 50.9), (-0.143, 0.557),
           [0.0, 0.2, 0.4], [-0.1, 0.1, 0.3, 0.5], Y1, TT1)
lc = legend_fig(T49, ser_c, names_10, HUE8, SH8, 65, 295, 16.7, 144.7)
pe = panel(T47, ser_e, HUE14, SH14, 294, 295, 73, 23, 43, (-1.05, 48.7), (-0.156, 0.326),
           [-0.1, 0.0, 0.1, 0.2, 0.3], [-0.15, -0.05, 0.05, 0.15, 0.25], Y1, TT1)
le = legend_fig(T47, ser_e, names_62, HUE14, SH14, 73, 295, 8.7, 143.8)

# bottom row (height 300)
pb = panel(T47, ser_b, HUE12, SH12, 278, 300, 57, 24, 47, (-1.0, 49.6), (-1.75, 0.094),
           [-1.5, -1.0, -0.5, 0.0], [-1.25, -0.75, -0.25], Y0, TT0)
lb = legend_fig(T47, ser_b, names_22, HUE12, SH12, 72, 300, 13.7, 146)
pd = panel(T47, ser_d, HUE8, SH8, 285, 300, 64, 25, 46, (-1.38, 49.0), (-0.21, 0.471),
           [-0.2, 0.0, 0.2, 0.4], [-0.1, 0.1, 0.3], Y1, TT1)
ld = legend_fig(T47, ser_d, names_10, HUE8, SH8, 70, 300, 16.7, 145)
pf = panel(T47, ser_f, HUE14, SH14, 289, 300, 67, 25, 45, (-1.14, 49.1), (-0.151, 0.312),
           [-0.1, 0.0, 0.1, 0.2, 0.3], [-0.15, -0.05, 0.05, 0.15, 0.25], Y1, TT1)
lf_ = legend_fig(T47, ser_f, names_62, HUE14, SH14, 78, 300, 12.7, 146.2)


def heading(txt, w):
    html = ('<div style="width:%dpx;height:50px;box-sizing:border-box;text-align:center;'
            'font-family:\'Liberation Sans\',Arial,sans-serif;font-size:25px;line-height:30px;'
            'padding-top:3px;color:#000">%s</div>' % (w, txt))
    return Div(text=html, width=w, height=50, margin=0)


def caption(letter, sex, sub, w, h, pt):
    html = ('<div style="width:%dpx;height:%dpx;box-sizing:border-box;text-align:center;'
            'font-family:\'Liberation Serif\',\'Times New Roman\',serif;font-size:26px;'
            'line-height:30px;padding-top:%dpx;padding-right:10px;color:#1A1A1A;white-space:nowrap">'
            '(<span style="font-family:\'Liberation Sans\',sans-serif;font-size:22px">%s</span>) '
            '%s <b><i>B</i></b><sub style="font-size:17px;line-height:0">%s</sub>(<i>t</i>)</div>'
            % (w, h, pt, letter, sex, sub))
    return Div(text=html, width=w, height=h, margin=0)


layout = column(
    row(heading("Region 22-others", 350), heading("Region 10-others", 355),
        heading("Region 62-others", 367), spacing=0, margin=0),
    row(pa, la, pc, lc, pe, le, spacing=0, margin=0),
    row(caption("a", "male", "0", 350, 70, 20), caption("c", "male", "1", 355, 70, 20),
        caption("e", "male", "1", 367, 70, 20), spacing=0, margin=0),
    row(pb, lb, pd, ld, pf, lf_, spacing=0, margin=0),
    row(caption("b", "female", "0", 350, 56, 18), caption("d", "female", "1", 355, 56, 18),
        caption("f", "female", "1", 367, 56, 18), spacing=0, margin=0),
    spacing=0, margin=0)

open("out.html", "w").write(file_html(layout, INLINE))
